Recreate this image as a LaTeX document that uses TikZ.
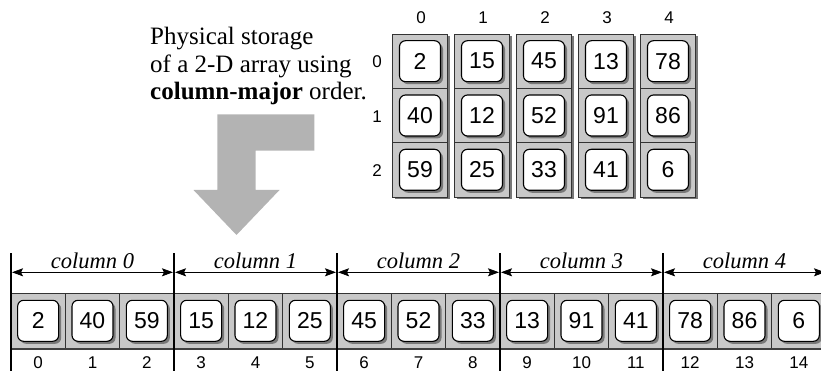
\documentclass[tikz,border=0pt]{standalone}
\usepackage{fontspec}
\setmainfont{Liberation Serif}
\setsansfont{Liberation Sans}
\usetikzlibrary{arrows.meta,shadows}
\definecolor{cellgray}{RGB}{200,200,200}
\definecolor{arrowgray}{RGB}{179,179,179}
\definecolor{shadowgray}{RGB}{120,120,120}
\begin{document}
\begin{tikzpicture}[x=1pt,y=-1pt,
  myshadow/.style={drop shadow={shadow xshift=2.5pt,shadow yshift=-2.5pt,fill=shadowgray,opacity=1}},
  colbox/.style={draw=black!85,line width=0.8pt,fill=cellgray,minimum width=54.6pt,minimum height=162.9pt,inner sep=0pt,myshadow},
  cellbox/.style={draw=black!80,line width=0.7pt,fill=cellgray,minimum width=54.6pt,minimum height=54.3pt,inner sep=0pt},
  bcellbox/.style={draw=black!80,line width=0.7pt,fill=cellgray,minimum width=54.33pt,minimum height=55pt,inner sep=0pt},
  valbox/.style={draw=black,line width=1.1pt,fill=white,rounded corners=6pt,minimum width=41pt,minimum height=41pt,inner sep=0pt,font=\sffamily\fontsize{23}{23}\selectfont,myshadow},
  idx/.style={font=\sffamily\fontsize{17}{17}\selectfont,inner sep=0pt},
  collabel/.style={font=\itshape\fontsize{22.5}{22.5}\selectfont,inner sep=0pt,anchor=base},
  sepline/.style={line width=2pt,black},
  dimline/.style={line width=0.8pt,black,{Stealth[length=11pt,width=8pt,inset=2pt]}-{Stealth[length=11pt,width=8pt,inset=2pt]},shorten <=1pt,shorten >=1pt},
  desc/.style={font=\fontsize{25}{27}\selectfont,inner sep=0pt,anchor=base west}
]
\path[use as bounding box] (0,0) rectangle (821,371);
\clip (0,0) rectangle (821,371);

% description text
\node[desc] (t1) at (150,45) {Physical storage};
\node[desc] (t2) at (150,72.5) {of a 2-D array using};
\node[desc] (t3) at (150,100) {\textbf{column-major} order.};

% gray bent arrow
\fill[arrowgray] (217.3,114.3) -- (314.3,114.3) -- (314.3,150.7) -- (255.7,150.7)
  -- (255.7,190) -- (279.5,190) -- (236.5,235) -- (193.5,190) -- (217.3,190) -- cycle;

% top 2-D array
\foreach \j in {0,...,4} {
  \node[colbox] (col\j) at ({420+62*\j},115.45) {};
  \node[idx] (ch\j) at ({421+62*\j},18) {\j};
}
\foreach \i in {0,1,2} {
  \node[idx] (rl\i) at (377,{62+54.3*\i}) {\i};
}
\foreach \v [count=\k from 0] in {2,15,45,13,78,40,12,52,91,86,59,25,33,41,6} {
  \pgfmathtruncatemacro{\ri}{int(\k/5)}
  \pgfmathtruncatemacro{\cj}{mod(\k,5)}
  \node[cellbox] (c\ri\cj) at ({420+62*\cj},{61.2+54.3*\ri}) {};
  \node[valbox] (v\ri\cj) at (c\ri\cj) {\v};
}

% linear storage
\foreach \v [count=\k from 0] in {2,40,59,15,12,25,45,52,33,13,91,41,78,86,6} {
  \node[bcellbox] (b\k) at ({11+54.333*(\k+0.5)},320.8) {};
  \node[valbox] (bv\k) at (b\k) {\v};
  \node[idx] (bi\k) at ({11+54.333*(\k+0.5)},362.5) {\k};
}
\draw[line width=2pt,black!75] (b0.south west) -- (b14.south east);

% column separators and dimension arrows
\foreach \m in {0,...,5} {
  \coordinate (vt\m) at ({11+163*\m},253);
  \coordinate (vb\m) at ({11+163*\m},380);
  \coordinate (a\m) at ({11+163*\m},272.3);
  \draw[sepline] (vt\m) -- (vb\m);
}
\foreach \m [evaluate=\m as \n using int(\m+1)] in {0,...,4} {
  \draw[dimline] (a\m) -- (a\n);
  \node[collabel] (cl\m) at ({92.5+163*\m},268.5) {column \m};
}
\end{tikzpicture}
\end{document}
